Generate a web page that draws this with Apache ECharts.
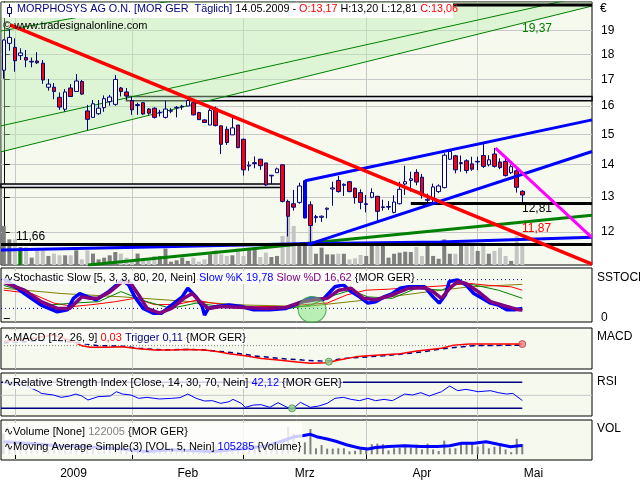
<!DOCTYPE html>
<html><head><meta charset="utf-8">
<script src="https://cdn.jsdelivr.net/npm/echarts@6/dist/echarts.min.js"></script>
<style>html,body{margin:0;padding:0;background:#fff}#c{width:640px;height:480px}</style>
</head><body><div id="c"></div>
<script>
// ---------- categories ----------
const tradingDays = [
  ['12.2008', [29,30]],
  ['01.2009', [2,5,6,7,8,9,12,13,14,15,16,19,20,21,22,23,26,27,28,29,30]],
  ['02.2009', [2,3,4,5,6,9,10,11,12,13,16,17,18,19,20,23,24,25,26,27]],
  ['03.2009', [2,3,4,5,6,9,10,11,12,13,16,17,18,19,20,23,24,25,26,27,30,31]],
  ['04.2009', [1,2,3,6,7,8,9,14,15,16,17,20,21,22,23,24,27,28,29,30]],
  ['05.2009', [4,5,6,7,8,11,12,13,14]]
];
const monthStartDates = ['02.01.2009','02.02.2009','02.03.2009','01.04.2009','04.05.2009'];
const monthNames = ['2009','Feb','Mrz','Apr','Mai'];
const priceTicks = [12,13,14,15,16,17,18,19];
const emptySlots = 12;

// ---------- price data (OHLC) ----------
const opens = [17.36,18.46,18.29,17.95,17.87,17.69,17.73,17.64,16.70,16.70,
16.32,15.88,16.67,16.54,16.92,15.82,15.59,15.72,15.94,16.16,
16.06,16.67,16.52,16.20,16.02,16.12,15.89,15.92,15.75,15.59,
15.81,15.93,15.97,16.00,16.12,15.76,15.50,15.32,15.92,15.29,
15.17,14.98,15.32,14.83,13.95,14.03,14.17,14.05,13.64,13.74,
13.99,12.87,12.80,12.84,12.39,12.77,12.40,12.41,12.64,13.24,
13.50,13.35,13.46,13.26,13.13,12.78,12.99,13.02,12.69,12.70,
12.55,12.80,13.39,13.50,13.75,13.60,12.90,12.95,13.16,13.28,
14.17,14.28,14.03,14.12,14.02,14.08,14.29,13.99,14.34,14.08,
14.10,13.74,13.80,13.17];
const closes = [18.60,18.71,17.74,18.06,17.77,17.72,17.66,16.98,16.82,16.54,
15.96,16.52,16.35,16.94,16.44,15.52,16.08,15.92,16.27,16.33,
17.00,16.54,16.37,15.86,16.05,15.71,15.74,15.59,15.77,15.89,
15.83,15.95,15.99,16.20,15.68,15.51,15.41,15.84,15.30,14.66,
14.72,15.22,14.55,13.83,13.98,14.06,13.96,13.36,13.66,13.86,
12.87,12.44,12.70,13.33,13.49,12.18,12.43,12.44,12.67,13.27,
13.16,13.38,13.16,12.98,12.84,12.80,13.13,12.58,12.71,12.72,
12.85,13.23,13.46,13.55,13.45,13.05,12.93,13.30,13.33,14.30,
14.42,13.83,14.06,13.81,13.85,14.10,13.94,14.15,13.94,13.90,
13.65,13.93,13.29,13.06];
const lows = [17.03,18.15,17.30,17.77,17.48,17.48,17.61,16.83,16.57,16.25,
15.86,15.80,16.33,16.52,16.41,15.14,15.58,15.68,15.79,16.01,
16.01,16.35,16.22,15.68,15.68,15.68,15.68,15.55,15.62,15.55,
15.74,15.59,15.86,16.00,15.66,15.50,15.41,15.32,15.27,14.34,
14.64,14.98,14.53,13.65,13.80,13.88,13.83,13.33,13.39,13.74,
12.84,11.88,12.60,12.80,12.38,11.66,12.26,12.28,12.38,12.74,
13.13,13.03,13.14,12.80,12.64,12.55,12.96,12.32,12.60,12.62,
12.52,12.78,13.06,13.16,13.35,12.95,12.81,12.85,13.12,13.26,
14.15,13.72,13.77,13.72,13.80,13.82,13.89,13.94,13.90,13.85,
13.62,13.70,13.13,12.81];
const highs = [18.63,19.06,18.67,18.25,18.18,17.87,18.09,17.77,17.02,16.86,
16.50,16.63,16.82,17.21,16.98,16.04,16.22,16.22,16.39,16.41,
17.17,16.71,16.67,16.35,16.12,16.14,15.92,15.95,15.86,16.20,
15.92,16.00,16.04,16.25,16.22,15.79,15.52,15.92,15.98,15.30,
15.27,15.59,15.32,14.85,14.10,14.26,14.18,14.05,13.67,13.90,
13.99,12.92,13.21,13.43,13.50,12.87,12.48,12.46,12.69,13.46,
13.64,13.41,13.48,13.28,13.23,13.06,13.26,13.03,12.92,12.88,
13.05,13.46,13.96,13.77,13.85,13.70,13.10,13.40,13.38,14.36,
14.48,14.31,14.29,14.17,14.25,14.25,14.68,14.30,14.54,14.20,
14.20,14.00,13.89,13.20];
const volumes = [250000,164000,164000,115000,115000,47000,107000,94000,58000,73000,
62000,62000,62000,94000,36000,94000,73000,36000,47000,62000,
83000,73000,47000,26000,73000,26000,30000,58000,58000,105000,
21000,30000,47000,26000,47000,21000,36000,68000,94000,68000,
58000,62000,105000,58000,105000,107000,51000,79000,51000,58000,
186000,328000,250000,137000,143000,303000,72000,111000,68000,68000,
72000,72000,36000,43000,64000,58000,122000,128000,122000,47000,
72000,79000,85000,83000,115000,58000,128000,58000,40000,164000,
72000,72000,136000,136000,136000,90000,122000,72000,90000,111000,
58000,26000,186000,122005];

// ---------- drawn objects in price chart ([bar index, price]) ----------
const greenChannelLow = [[-0.5,14.41],[105.5,20.10]];
const greenChannelMid = [[-0.5,15.29],[105.5,20.63]];
const greenChannelTop = [[-0.5,18.99],[105.5,24.08]];
const redTrend = [[1.13,19.25],[105.5,11.15]];
const magentaTrend = [[88.2,14.53],[105.5,11.85]];
const blueUpper = [[54.1,12.39],[54.1,13.49],[105.5,15.50]];
const blueLower = [[54.5,11.66],[105.5,14.42]];
const blueBase = [[-0.5,11.52],[26.3,11.60],[53.2,11.68],[78.3,11.73],[105.5,11.86]];
const greenBase = [[15.1,11.13],[105.5,12.47]];
const greenTick = [[2.9,11.49],[2.9,11.13]];
const support1166 = [[-0.5,11.66],[105.5,11.66]];
const support1281 = [[73,12.81],[105.5,12.81]];
const topLine = [[79,20.15],[105.5,20.15]];
const zoneA = [22,105.5,16.35,16.19];
const zoneB = [-0.5,50.1,13.39,13.28];

// ---------- indicators ----------
const stochK = [[0,82],[3.7,51],[6.7,27],[9.6,13],[11.4,17],[12.5,41],[13.6,51],[15.1,44],[16.6,38],[18.8,55],[20.6,72],[21.3,79],[22.4,69],[23.5,44],[25,20],[26.8,10],[28.3,10],[30.1,27],[32,44],[33,62],[34.5,44],[35.6,24],[36,6],[36.7,20],[38.2,24],[40.4,27],[42.6,24],[44.8,17],[47.7,17],[50.6,20],[53.6,34],[55,41],[57.2,38],[59.4,65],[60.9,69],[62.3,55],[63.8,44],[65.3,31],[66.7,34],[68.2,44],[69.7,51],[71.1,62],[72.6,65],[75.5,65],[77,44],[78.1,31],[79.2,48],[79.9,76],[81.4,79],[82.9,69],[84.3,51],[85.8,41],[87.3,31],[88.7,27],[90.2,17],[91.6,17],[93,19.78]];
const stochD = [[0,74],[3.7,58],[6.7,34],[9.6,20],[11.8,20],[14,44],[15.5,41],[16.9,41],[19.1,55],[21.3,76],[22.8,72],[24.2,48],[25.7,20],[27.9,10],[30.1,20],[32.3,41],[33.8,51],[35.2,34],[36.7,20],[38.9,24],[43.3,22],[47,20],[50.6,22],[53.6,34],[55.8,38],[58,41],[60.1,58],[62.3,62],[64.5,41],[66.7,38],[69.7,48],[72.6,62],[75.5,63],[77,55],[78.5,41],[80,62],[81.4,76],[82.9,72],[85.1,55],[87.3,34],[90.2,24],[92.4,17],[93,16.62]];
const stochRed = [[0,58],[5,51],[9,31],[12.5,24],[16,28],[20,34],[23.5,41],[27,28],[31,28],[34.5,37],[37.5,31],[43,22],[47,24],[50.5,24],[54,28],[58,31],[61.5,48],[65,58],[69,60],[72.5,63],[76,65],[80,68],[83.5,72],[87,68],[91,65],[93,58]];
const stochGreen = [[0,68],[3.7,55],[8,27],[12.5,31],[17,34],[21,55],[25.7,34],[30,20],[34.5,31],[38.9,24],[44.8,20],[50.6,19],[55,27],[59.4,48],[62.3,58],[65.3,44],[69.7,41],[74,62],[78.5,58],[81.4,72],[84.3,69],[88.7,58],[93,41]];
const stochOlive = [[0,62],[10.3,51],[21.3,44],[32.3,35],[43.3,27],[54.3,24],[65.3,38],[76.3,55],[83.6,65],[93,70]];
const stochLevels = [80,20];
const stochSignal = [[55.3,17.5]];

const macdLine = [[0,0.08],[5.2,0.14],[8.9,0.2],[11.8,0.1],[14,0],[15.5,-0.03],[18.4,-0.03],[21.3,-0.02],[24.2,-0.06],[27.2,-0.08],[30.1,-0.08],[33,-0.07],[36,-0.08],[38.2,-0.11],[40.4,-0.15],[43.3,-0.19],[46.2,-0.24],[49.2,-0.27],[52.1,-0.3],[55,-0.33],[58,-0.32],[60.1,-0.27],[63.1,-0.21],[65.3,-0.19],[68.2,-0.17],[71.1,-0.15],[74.1,-0.1],[78.5,-0.05],[80.7,0.01],[83.6,0.03],[87.3,0.03],[93,0.03]];
const macdTrigger = [[0,0.05],[8,0.1],[13,0.06],[16.9,0],[21.3,-0.01],[24.2,-0.05],[28.6,-0.08],[33,-0.07],[36,-0.08],[38.9,-0.11],[41.8,-0.14],[44.8,-0.19],[47.7,-0.22],[50.6,-0.25],[53.6,-0.27],[57.2,-0.29],[58.7,-0.28],[60.9,-0.24],[63.8,-0.22],[68.2,-0.19],[71.1,-0.16],[75.5,-0.11],[78.5,-0.06],[81.4,-0.03],[84.3,0],[93,0.01]];
const macdBuy = [[58.3,-0.3]];
const macdSell = [[93,0.03]];

const rsiLine = [[0,68.5],[3.7,66],[6.3,55.6],[6.7,53],[8.9,50.5],[10.3,46.9],[11.8,49],[12.9,52],[14,49],[15.1,42.8],[16.9,47.9],[19.1,49],[20.2,55.6],[21.3,52],[22.8,50.5],[24.2,45.4],[25.7,46.9],[27.9,44.4],[30.1,45.4],[31.6,46.4],[33,52],[34.5,45.4],[36,41.3],[37.4,41.8],[38.9,37.7],[40.4,40.2],[41.1,43.8],[42.6,37.7],[43.3,31.5],[44.8,35.1],[46.2,35.6],[47.7,31.5],[49.2,38.7],[50.6,32.5],[51.7,28.4],[53.2,39.2],[55,31.5],[56.5,33.6],[58,37.7],[59.4,45.4],[60.9,46.9],[62.3,43.8],[63.8,41.8],[65.3,45.4],[66.7,41.8],[68.2,43.8],[69.7,41.8],[71.9,52],[73.3,50.5],[74.8,54.1],[76.3,49],[78.5,55.6],[80,64.4],[81.4,57.2],[82.9,59.2],[85.1,55.6],[87.3,57.2],[88.7,54.1],[90.2,52],[91.3,53],[93,42.12]];
const rsiLevels = [70,30];
const rsiMid = 50;
const rsiSignal = [[51.7,30]];

const volMA = [[0,150000],[5,130000],[10,100000],[15,90000],[20,70000],[25.7,35000],[30,55000],[37.4,35000],[42,60000],[47,100000],[50,160000],[52.1,211000],[53.6,222000],[55,240000],[56.1,211000],[58,184000],[59.4,160000],[61.6,112000],[63.8,75000],[65.3,64000],[66.7,82000],[69,93000],[71.9,103000],[74.8,93000],[77.7,93000],[80,103000],[82.1,132000],[84.3,132000],[86.5,151000],[88.7,120000],[90.9,91000],[92.4,103000],[93,105285]];

// ---------- build ----------
const dates = [];
tradingDays.forEach(([m, days]) => days.forEach(d => dates.push(String(d).padStart(2,'0') + '.' + m)));
const categories = dates.concat(Array(emptySlots).fill(''));
const nSlots = categories.length;
const monthStarts = monthStartDates.map(d => dates.indexOf(d));
const monthLabelPos = monthStarts.map((s, k) => k < monthStarts.length - 1 ? (s + monthStarts[k+1]) / 2 : s + 10);
const lastIdx = dates.length - 1;

const FONT = 'Liberation Sans';
const BG = '#f5f9ee';
const GRID_C = '#c8c8c8';
const L = 1, R = 48;
const XMIN = -0.5, XMAX = nSlots - 0.5;
const F11 = '11px "Liberation Sans"';
const F12 = '12px "Liberation Sans"';

function frame(top, height) {
  return {left: L, right: R, top, height, show: true, borderColor: '#000', borderWidth: 1, backgroundColor: BG, outerBoundsMode: 'none', containLabel: false};
}
function valX(grid, extra) {
  return Object.assign({
    type: 'value', gridIndex: grid, min: XMIN, max: XMAX,
    axisLine: {show: false}, axisLabel: {show: false},
    axisTick: {show: false, customValues: monthStarts},
    splitLine: {show: true, lineStyle: {color: GRID_C, width: 1}}
  }, extra || {});
}
function catX(grid) {
  return {type: 'category', gridIndex: grid, data: categories, show: false, boundaryGap: true};
}
function ln(xi, yi, data, color, width, extra) {
  return Object.assign({type: 'line', xAxisIndex: xi, yAxisIndex: yi, data, symbol: 'none',
    lineStyle: {color, width}, silent: true, z: 4, animation: false}, extra || {});
}
const levelLine = (v, from, to) => [[from, v], [to, v]];

const candleData = dates.map((d, i) => [opens[i], closes[i], lows[i], highs[i]]);
const volColor = p => (closes[p.dataIndex] >= opens[p.dataIndex] ? '#7f7f7f' : '#c4c4c4');

const option = {
  animation: false,
  backgroundColor: '#ffffff',
  textStyle: {fontFamily: FONT},
  grid: [
    frame(2, 263),
    {left: L, right: R, top: 205, height: 60, show: false, outerBoundsMode: 'none'},
    frame(268, 54),
    frame(328, 41),
    frame(373, 43),
    frame(420, 40)
  ],
  xAxis: [
    catX(0),
    valX(0),
    catX(1),
    valX(2),
    valX(3),
    valX(4),
    valX(5, {
      axisTick: {show: true, customValues: monthStarts, length: 5, lineStyle: {color: '#000'}},
      axisLabel: {show: true, customValues: monthLabelPos, margin: 8, color: '#000', fontFamily: FONT, fontSize: 12,
        formatter: v => { let k = 0, best = 1e9; monthLabelPos.forEach((p, j) => { if (Math.abs(p - v) < best) { best = Math.abs(p - v); k = j; } }); return monthNames[k]; }},
      position: 'bottom'
    }),
    catX(5)
  ],
  yAxis: [
    {type: 'log', logBase: 10, gridIndex: 0, min: 11.13, max: 20.286, position: 'right',
      axisLine: {show: true, lineStyle: {color: '#000'}},
      axisTick: {show: true, customValues: priceTicks, length: 6, lineStyle: {color: '#000'}},
      axisLabel: {customValues: priceTicks, color: '#000', fontFamily: FONT, fontSize: 12, margin: 9},
      splitLine: {show: true, lineStyle: {color: GRID_C, width: 1}}},
    {type: 'value', gridIndex: 1, min: 0, max: 384000, show: false},
    {type: 'value', gridIndex: 2, min: -8.33, max: 104.17, position: 'right',
      axisLine: {show: false},
      axisTick: {show: true, customValues: [0], length: 6, lineStyle: {color: '#000'}},
      axisLabel: {customValues: [0], color: '#000', fontFamily: FONT, fontSize: 12, margin: 9},
      splitLine: {show: false}},
    {type: 'value', gridIndex: 3, min: -0.4375, max: 0.331, show: false},
    {type: 'value', gridIndex: 4, min: 18.2, max: 84.4, show: false},
    {type: 'value', gridIndex: 5, min: -68400, max: 411600, show: false}
  ],
  series: [
    ln(1, 0, greenChannelLow, '#008000', 1, {z: 1, areaStyle: {origin: 'end', color: 'rgba(190,240,176,0.58)'}}),
    ln(1, 0, greenChannelMid, '#008000', 1, {z: 1}),
    ln(1, 0, greenChannelTop, '#008000', 1, {z: 1}),
    {type: 'line', xAxisIndex: 1, yAxisIndex: 0, data: [], silent: true, z: 2,
      markArea: {silent: true, itemStyle: {color: '#e6e7f0', borderColor: '#000', borderWidth: 1.5},
        data: [
          [{xAxis: zoneA[0], yAxis: zoneA[2]}, {xAxis: zoneA[1], yAxis: zoneA[3]}],
          [{xAxis: zoneB[0], yAxis: zoneB[2]}, {xAxis: zoneB[1], yAxis: zoneB[3]}]
        ]}},
    {type: 'bar', xAxisIndex: 2, yAxisIndex: 1, data: volumes, barWidth: 4, silent: true, z: 2,
      itemStyle: {color: volColor}},
    {type: 'candlestick', xAxisIndex: 0, yAxisIndex: 0, data: candleData, barWidth: 4, silent: true, z: 3,
      itemStyle: {color: '#ffffff', color0: '#ff0000', borderColor: '#000080', borderColor0: '#000080', borderWidth: 1}},
    ln(1, 0, greenTick, '#008000', 3),
    ln(1, 0, greenBase, '#008000', 3),
    ln(1, 0, blueBase, '#0000ff', 3),
    ln(1, 0, support1166, '#000000', 3),
    ln(1, 0, support1281, '#000000', 3),
    ln(1, 0, topLine, '#000000', 3),
    ln(1, 0, blueLower, '#0000ff', 3),
    ln(1, 0, blueUpper, '#0000ff', 3),
    ln(1, 0, redTrend, '#ff0000', 3.5),
    ln(1, 0, magentaTrend, '#ff00ff', 3),

    ln(3, 2, levelLine(stochLevels[0], XMIN, lastIdx), '#000080', 1, {lineStyle: {color: '#000080', width: 1, type: [1, 3]}}),
    ln(3, 2, levelLine(stochLevels[1], XMIN, lastIdx), '#000080', 1, {lineStyle: {color: '#000080', width: 1, type: [1, 3]}}),
    ln(3, 2, stochOlive, '#808000', 1),
    ln(3, 2, stochRed, '#ff0000', 1),
    ln(3, 2, stochGreen, '#008000', 1),
    ln(3, 2, stochK, '#0000ff', 3.5),
    ln(3, 2, stochD, '#800080', 3.5),
    {type: 'scatter', xAxisIndex: 3, yAxisIndex: 2, data: stochSignal, symbol: 'circle', symbolSize: [28, 26], clip: true, silent: true, z: 6,
      itemStyle: {color: 'rgba(120,225,120,0.6)', borderColor: '#3c9c3c', borderWidth: 1}},

    ln(4, 3, levelLine(0, XMIN, lastIdx), '#808080', 1, {lineStyle: {color: '#808080', width: 1, type: [1, 2]}}),
    ln(4, 3, macdTrigger, '#000080', 1.5, {lineStyle: {color: '#000080', width: 1.5, type: [5, 4]}}),
    ln(4, 3, macdLine, '#ff0000', 1.5),
    {type: 'scatter', xAxisIndex: 4, yAxisIndex: 3, data: macdBuy, symbolSize: 7, silent: true, z: 6,
      itemStyle: {color: '#90d890', borderColor: '#4a8a4a', borderWidth: 1}},
    {type: 'scatter', xAxisIndex: 4, yAxisIndex: 3, data: macdSell, symbolSize: 7, silent: true, z: 6,
      itemStyle: {color: '#f08080', borderColor: '#a04040', borderWidth: 1}},

    ln(5, 4, levelLine(rsiMid, XMIN, XMAX), GRID_C, 1, {z: 3}),
    ln(5, 4, levelLine(rsiLevels[0], XMIN, lastIdx), '#000080', 1.5),
    ln(5, 4, levelLine(rsiLevels[1], XMIN, lastIdx), '#000080', 1.5),
    ln(5, 4, rsiLine, '#0000ff', 1),
    {type: 'scatter', xAxisIndex: 5, yAxisIndex: 4, data: rsiSignal, symbolSize: 7, silent: true, z: 6,
      itemStyle: {color: '#90d890', borderColor: '#4a8a4a', borderWidth: 1}},

    {type: 'bar', xAxisIndex: 7, yAxisIndex: 5, data: volumes, barWidth: 2, silent: true, z: 2,
      itemStyle: {color: '#808080'}},
    ln(6, 5, volMA, '#0000ff', 3)
  ],
  graphic: [
    {type: 'rect', shape: {x: 2, y: 3, width: 451, height: 15}, style: {fill: '#ffffff'}, z: 100, silent: true},
    {type: 'line', shape: {x1: 9.5, y1: 4, x2: 9.5, y2: 17}, style: {stroke: '#000080', lineWidth: 1}, z: 101, silent: true},
    {type: 'rect', shape: {x: 7.5, y: 7.5, width: 4, height: 6}, style: {fill: '#ffffff', stroke: '#000080', lineWidth: 1}, z: 102, silent: true},
    {type: 'text', x: 17, y: 4, z: 103, silent: true, style: {
      text: '{n|MORPHOSYS AG O.N. [MOR GER  Täglich]} 14.05.2009 - {r|O:13,17} H:13,20 L:12,81 {r|C:13,06}',
      font: '10.8px "Liberation Sans"', fill: '#000',
      rich: {n: {fill: '#000080', font: '10.8px "Liberation Sans"'}, r: {fill: '#ff0000', font: '10.8px "Liberation Sans"'}}}},
    {type: 'text', x: 3, y: 20, z: 103, silent: true, style: {text: '© www.tradesignalonline.com', font: F11, fill: '#000'}},
    {type: 'text', x: 600, y: 3, z: 103, silent: true, style: {text: '€', font: F12, fill: '#000'}},
    {type: 'text', x: 522, y: 23, z: 103, silent: true, style: {text: '19,37', font: F12, fill: '#008000'}},
    {type: 'text', x: 522, y: 203, z: 103, silent: true, style: {text: '12,81', font: F12, fill: '#000'}},
    {type: 'text', x: 522, y: 223, z: 103, silent: true, style: {text: '11,87', font: F12, fill: '#ff0000'}},
    {type: 'text', x: 16, y: 231, z: 103, silent: true, style: {text: '11,66', font: F12, fill: '#000'}},
    {type: 'text', x: 3, y: 271, z: 103, silent: true, style: {
      text: '∿Stochastic Slow [5, 3, 3, 80, 20, Nein] {b|Slow %K 19,78} {p|Slow %D 16,62} {MOR GER}',
      font: F11, fill: '#000', backgroundColor: 'rgba(255,255,255,0.8)', padding: [1, 1],
      rich: {b: {fill: '#0000ff', font: F11}, p: {fill: '#800080', font: F11}}}},
    {type: 'text', x: 3, y: 331, z: 103, silent: true, style: {
      text: '∿MACD [12, 26, 9] {r|0,03} {n|Trigger 0,11} {MOR GER}',
      font: F11, fill: '#000', backgroundColor: 'rgba(255,255,255,0.8)', padding: [1, 1],
      rich: {r: {fill: '#ff0000', font: F11}, n: {fill: '#000080', font: F11}}}},
    {type: 'text', x: 3, y: 376, z: 103, silent: true, style: {
      text: '∿Relative Strength Index [Close, 14, 30, 70, Nein] {b|42,12} {MOR GER}',
      font: F11, fill: '#000', backgroundColor: 'rgba(255,255,255,0.8)', padding: [1, 1],
      rich: {b: {fill: '#0000ff', font: F11}}}},
    {type: 'text', x: 3, y: 423, z: 103, silent: true, style: {
      text: '∿Volume [None] {g|122005} {MOR GER}\n∿Moving Average Simple(3) [VOL, 5, Nein] {b|105285} {Volume}',
      font: F11, fill: '#000', lineHeight: 15, backgroundColor: 'rgba(255,255,255,0.8)', padding: [1, 1],
      rich: {g: {fill: '#808080', font: F11, lineHeight: 15}, b: {fill: '#0000ff', font: F11, lineHeight: 15}}}},
    {type: 'text', x: 597, y: 272, z: 103, silent: true, style: {text: 'SSTOCH', font: F12, fill: '#000'}},
    {type: 'text', x: 597, y: 331, z: 103, silent: true, style: {text: 'MACD', font: F12, fill: '#000'}},
    {type: 'text', x: 597, y: 376, z: 103, silent: true, style: {text: 'RSI', font: F12, fill: '#000'}},
    {type: 'text', x: 597, y: 423, z: 103, silent: true, style: {text: 'VOL', font: F12, fill: '#000'}}
  ]
};

const chart = echarts.init(document.getElementById('c'), null, {renderer: 'canvas', width: 640, height: 480});
chart.setOption(option);
</script>
</body></html>
